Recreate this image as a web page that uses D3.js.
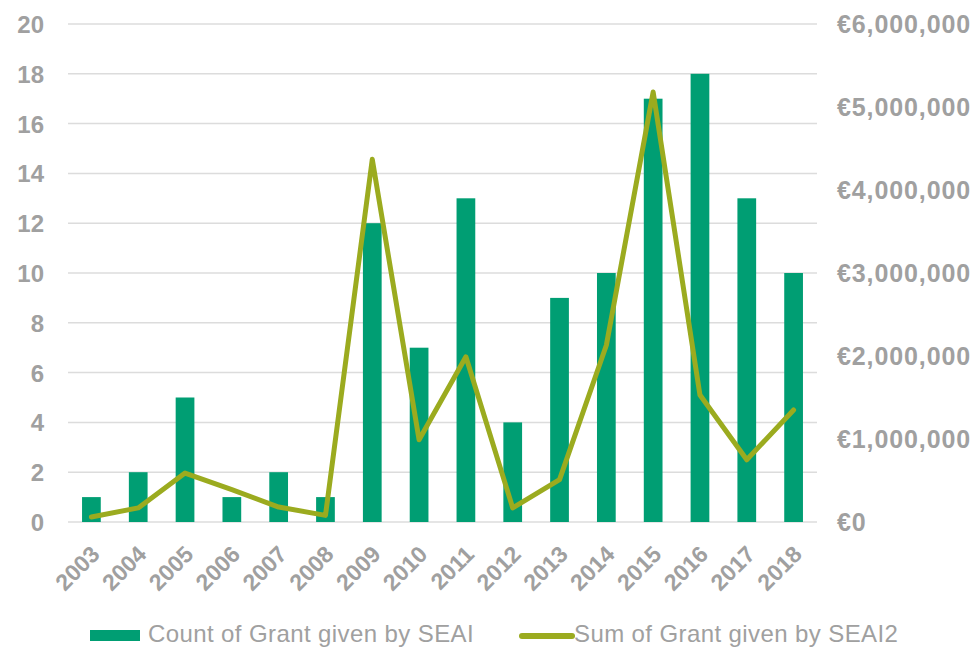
<!DOCTYPE html>
<html>
<head>
<meta charset="utf-8">
<script src="https://cdn.jsdelivr.net/npm/d3@7"></script>
<style>
  body { margin: 0; background: #fff; }
  text { font-family: "Liberation Sans", Arial, sans-serif; }
</style>
</head>
<body>
<div id="chart"></div>
<script>
const years = ["2003", "2004", "2005", "2006", "2007", "2008", "2009", "2010",
    "2011", "2012", "2013", "2014", "2015", "2016", "2017", "2018"];
const grantCount = [1, 2, 5, 1, 2, 1, 12, 7, 13, 4, 9, 10, 17, 18, 13, 10];
const grantSum = [60000, 170000, 590000, 390000, 180000, 80000, 4370000, 990000,
    1990000, 170000, 510000, 2130000, 5180000, 1530000, 750000, 1350000];
const countTicks = [0, 2, 4, 6, 8, 10, 12, 14, 16, 18, 20];
const sumTicks = [0, 1000000, 2000000, 3000000, 4000000, 5000000, 6000000];

const width = 979;
const height = 649;
const margin = { top: 24, right: 162, bottom: 127, left: 68 };

const svg = d3.select("#chart")
    .append("svg")
    .attr("width", width)
    .attr("height", height);

const x = d3.scaleBand()
    .domain(years)
    .range([margin.left, width - margin.right])
    .paddingInner(0.6)
    .paddingOuter(0.3);

const y = d3.scaleLinear().domain([0, 20]).range([height - margin.bottom, margin.top]);
const y2 = d3.scaleLinear().domain([0, 6000000]).range([height - margin.bottom, margin.top]);

const grey = "#a0a0a0";

// gridlines
svg.append("g")
    .selectAll("line")
    .data(countTicks)
    .enter().append("line")
    .attr("x1", margin.left)
    .attr("x2", width - margin.right)
    .attr("y1", d => y(d))
    .attr("y2", d => y(d))
    .attr("stroke", "#dcdcdc")
    .attr("stroke-width", 1.5);

// bars
svg.append("g")
    .selectAll(".bar")
    .data(years)
    .enter().append("rect")
    .attr("class", "bar")
    .attr("x", d => x(d))
    .attr("y", (d, i) => y(grantCount[i]))
    .attr("width", x.bandwidth())
    .attr("height", (d, i) => y(0) - y(grantCount[i]))
    .attr("fill", "#009e73");

// line
const line = d3.line()
    .x((d, i) => x(years[i]) + x.bandwidth() / 2)
    .y(d => y2(d));

svg.append("path")
    .datum(grantSum)
    .attr("d", line)
    .attr("fill", "none")
    .attr("stroke", "#9bab1f")
    .attr("stroke-width", 5)
    .attr("stroke-linejoin", "round")
    .attr("stroke-linecap", "round");

// left axis
const yAxis = svg.append("g")
    .attr("transform", `translate(${margin.left - 21},0)`)
    .call(d3.axisLeft(y).tickValues(countTicks).tickSize(0));
yAxis.select(".domain").remove();
yAxis.selectAll("text")
    .attr("dy", "0.35em")
    .style("font-size", "24px")
    .style("font-weight", "bold")
    .style("fill", grey);

// right axis
const y2Axis = svg.append("g")
    .attr("transform", `translate(${width - margin.right + 17},0)`)
    .call(d3.axisRight(y2).tickValues(sumTicks).tickSize(0)
        .tickFormat(d => "€" + d3.format(",")(d)));
y2Axis.select(".domain").remove();
y2Axis.selectAll("text")
    .attr("dy", "0.35em")
    .style("font-size", "25px")
    .style("letter-spacing", "0.9px")
    .style("font-weight", "bold")
    .style("fill", grey);

// x axis
const xAxis = svg.append("g")
    .attr("transform", `translate(0,${height - margin.bottom})`)
    .call(d3.axisBottom(x).tickSize(0));
xAxis.select(".domain").remove();
xAxis.selectAll("text")
    .attr("y", 0)
    .attr("dy", "0.35em")
    .attr("transform", "translate(4,28) rotate(-45)")
    .style("text-anchor", "end")
    .style("font-size", "23px")
    .style("font-weight", "bold")
    .style("fill", grey);

// legend
const legend = svg.append("g");
legend.append("rect")
    .attr("x", 90)
    .attr("y", 630)
    .attr("width", 50)
    .attr("height", 11)
    .attr("fill", "#009e73");
legend.append("text")
    .attr("x", 148)
    .attr("y", 634)
    .attr("dy", "0.35em")
    .text("Count of Grant given by SEAI")
    .style("font-size", "24px")
    .style("letter-spacing", "0.4px")
    .style("fill", grey);
legend.append("line")
    .attr("x1", 522)
    .attr("x2", 572)
    .attr("y1", 636)
    .attr("y2", 636)
    .attr("stroke", "#9bab1f")
    .attr("stroke-width", 6)
    .attr("stroke-linecap", "round");
legend.append("text")
    .attr("x", 574)
    .attr("y", 634)
    .attr("dy", "0.35em")
    .text("Sum of Grant given by SEAI2")
    .style("font-size", "24px")
    .style("letter-spacing", "0.4px")
    .style("fill", grey);
</script>
</body>
</html>
